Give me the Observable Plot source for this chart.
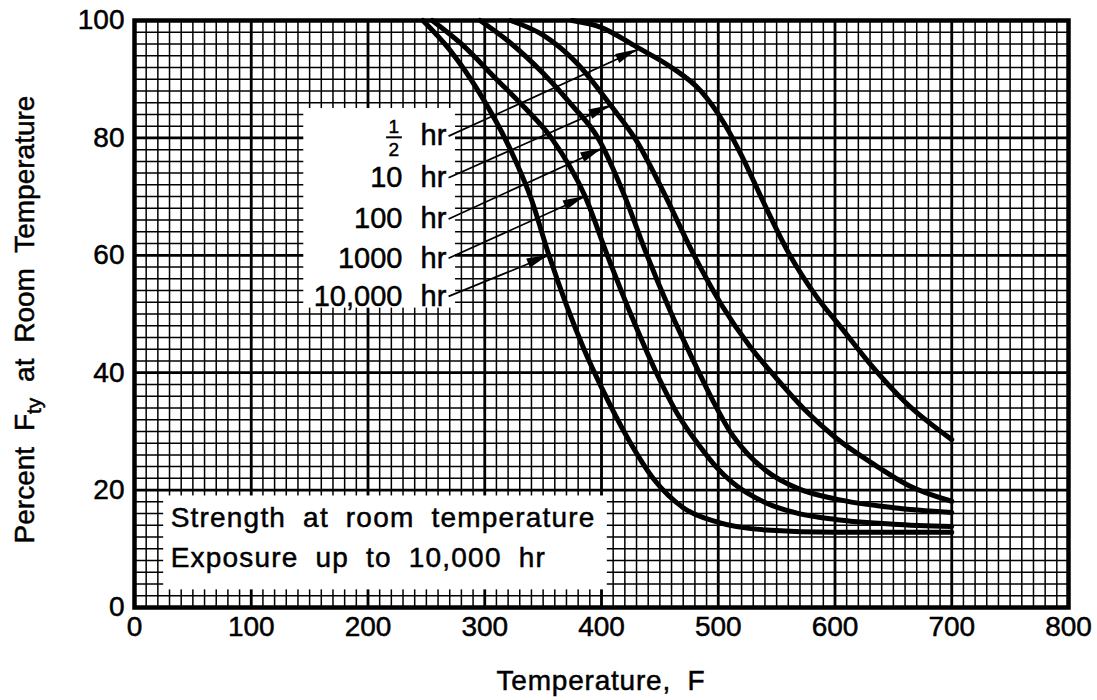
<!DOCTYPE html>
<html><head><meta charset="utf-8">
<script src="https://cdn.jsdelivr.net/npm/d3@7"></script>
<script src="https://cdn.jsdelivr.net/npm/@observablehq/plot@0.6"></script>
<style>
html,body{margin:0;padding:0;background:#fff;}
#chart svg{display:block;}
#chart svg text{word-spacing:8px;stroke:#000;stroke-width:0.5px;}
</style></head><body><div id="chart"></div>
<script>
// ---- axis ticks ----
const xTicks = [0,100,200,300,400,500,600,700,800];
const yTicks = [0,20,40,60,80,100];
const xMinor = d3.range(0, 801, 10);
const yMinor = d3.range(0, 101, 2);

// ---- series (Temperature F, percent of room-temperature Fty) ----
const seriesNames = ["1/2 hr","10 hr","100 hr","1000 hr","10,000 hr"];
const halfHrT  = [375,400,430,460,485,505,520,540,560,584,606,630,660,700];
const halfHrP  = [100,98.8,95.5,92,88,82.5,77,68.5,60.5,53,47.5,41.5,35,28.6];
const tenHrT   = [322,350,380,408,430,455,478,503,527,550,575,600,634,663,700];
const tenHrP   = [100,97.5,92.5,85.5,79.5,70,60.5,51.5,44.5,39,33.5,29,24.3,20.8,18.1];
const hundredHrT = [296,320,350,375,397,420,438,460,480,496,510,525,541,569,600,650,700];
const hundredHrP = [100,96.5,91,85.5,80,70,60.5,50,41.5,35,30,26.2,23.3,20.2,18.5,17,16.2];
const thousandHrT = [255,280,310,335,357,386,405,425,447,465,484,498,512,541,569,600,650,700];
const thousandHrP = [100,96,90,85,80,70,60,50,40,33,27.5,24,21.3,17.8,16,15,14.2,13.8];
const tenThousandHrT = [247,270,296,322,340,355,370,385,400,422,445,470,500,541,600,700];
const tenThousandHrP = [100,95,87.5,78,69.5,60,51.5,44,37.5,29,21.8,17,14.5,13.2,12.8,12.8];
const seriesT = [halfHrT, tenHrT, hundredHrT, thousandHrT, tenThousandHrT];
const seriesP = [halfHrP, tenHrP, hundredHrP, thousandHrP, tenThousandHrP];

// ---- legend labels & arrows ----
const labelNums = ["", "10", "100", "1000", "10,000"];
const labelY    = [80.3, 73.2, 66.2, 59.5, 53.0];
const labelNumX = 229.5;
const labelHrX  = 245;
const arrowStartX = 269;
const arrowTipX = [431, 408, 401, 386, 355];
const arrowTipY = [95.0, 85.5, 78.2, 70, 60];
const fracTop = "1", fracBottom = "2";
const fracX = 222, fracTopY = 81.9, fracBottomY = 77.9, fracBarY = 80.1, fracBarX1 = 215.5, fracBarX2 = 229;

// ---- white boxes ----
const boxX1 = [145, 25], boxX2 = [275, 405], boxY1 = [51, 3], boxY2 = [85, 19];
const noteLines = ["Strength at room temperature", "Exposure up to 10,000 hr"];
const noteX = 31, noteY = [15.3, 8.35];

const xLabel = "Temperature, F";

// ---- build tables ----
const curveRows = seriesNames.flatMap((s, i) => seriesT[i].map((t, j) => ({series: s, t, p: seriesP[i][j]})));
const arrowRows = seriesNames.map((s, i) => ({x1: arrowStartX, y1: labelY[i], x2: arrowTipX[i], y2: arrowTipY[i]}));
const numRows = labelNums.map((n, i) => ({text: n, y: labelY[i]})).filter(d => d.text);
const hrRows = labelY.map(y => ({text: "hr", y}));
const boxRows = boxX1.map((x, i) => ({x1: x, x2: boxX2[i], y1: boxY1[i], y2: boxY2[i]}));
const noteRows = noteLines.map((t, i) => ({text: t, y: noteY[i]}));
const fracRows = [{text: fracTop, y: fracTopY}, {text: fracBottom, y: fracBottomY}];

const plot = Plot.plot({
  width: 1097, height: 700,
  marginLeft: 134, marginRight: 29, marginTop: 20, marginBottom: 93,
  x: {domain: [0, 800]},
  y: {domain: [0, 100]},
  style: {fontFamily: "'Liberation Sans', Arial, sans-serif", fontSize: "28px", color: "black", background: "white"},
  marks: [
    Plot.gridX(xMinor, {stroke: "black", strokeOpacity: 1, strokeWidth: 1.5}),
    Plot.gridY(yMinor, {stroke: "black", strokeOpacity: 1, strokeWidth: 1.5}),
    Plot.gridX(xTicks, {stroke: "black", strokeOpacity: 1, strokeWidth: 2.8}),
    Plot.gridY(yTicks, {stroke: "black", strokeOpacity: 1, strokeWidth: 2.8}),
    Plot.rect(boxRows, {x1: "x1", x2: "x2", y1: "y1", y2: "y2", fill: "white"}),
    Plot.line(curveRows, {x: "t", y: "p", z: "series", stroke: "black", strokeWidth: 5, curve: "monotone-x"}),
    Plot.link(arrowRows, {x1: "x1", y1: "y1", x2: "x2", y2: "y2", stroke: "black", strokeWidth: 1.7}),
    Plot.text(numRows, {x: labelNumX, y: "y", text: "text", textAnchor: "end", fontSize: 29}),
    Plot.text(hrRows, {x: labelHrX, y: "y", text: "text", textAnchor: "start", fontSize: 29}),
    Plot.text(fracRows, {x: fracX, y: "y", text: "text", fontSize: 19}),
    Plot.link([{x1: fracBarX1, x2: fracBarX2, y: fracBarY}], {x1: "x1", x2: "x2", y1: "y", y2: "y", stroke: "black", strokeWidth: 2}),
    Plot.text(noteRows, {x: noteX, y: "y", text: "text", textAnchor: "start", fontSize: 28}),
    Plot.frame({stroke: "black", strokeWidth: 4.5}),
    Plot.axisX(xTicks, {tickSize: 0, tickPadding: 9, label: null, fontSize: 28}),
    Plot.axisY(yTicks, {tickSize: 0, tickPadding: 10, label: null, fontSize: 28})
  ]
});

document.getElementById("chart").appendChild(plot);

const svg = d3.select(plot);
const sx = plot.scale("x"), sy = plot.scale("y");

// filled arrowheads, positioned through the scales
arrowRows.forEach(a => {
  const x1 = sx.apply(a.x1), y1 = sy.apply(a.y1), x2 = sx.apply(a.x2), y2 = sy.apply(a.y2);
  const dx = x2 - x1, dy = y2 - y1, len = Math.hypot(dx, dy);
  const ux = dx / len, uy = dy / len, L = 22, W = 5;
  const bx = x2 - ux * L, by = y2 - uy * L;
  svg.append("path")
    .attr("d", `M${x2},${y2}L${bx - uy * W},${by + ux * W}L${bx + uy * W},${by - ux * W}Z`)
    .attr("fill", "black");
});

// letter spacing for the note lines
svg.selectAll("text").filter(function() { return noteLines.includes(this.textContent); })
  .attr("letter-spacing", 1.2);

// x axis title
const xMid = (sx.apply(0) + sx.apply(800)) / 2;
svg.append("text").attr("x", xMid).attr("y", 690).attr("text-anchor", "middle")
  .attr("font-size", 28).attr("letter-spacing", 0.8).text(xLabel);

// y axis title with subscript
const yMid = (sy.apply(0) + sy.apply(100)) / 2;
const yt = svg.append("text").attr("transform", `translate(34,${yMid + 6}) rotate(-90)`)
  .attr("text-anchor", "middle").attr("font-size", 28);
yt.append("tspan").text("Percent F");
yt.append("tspan").attr("font-size", 21).attr("dy", 7).text("ty");
yt.append("tspan").attr("dy", -7).text(" at Room Temperature");
</script></body></html>
